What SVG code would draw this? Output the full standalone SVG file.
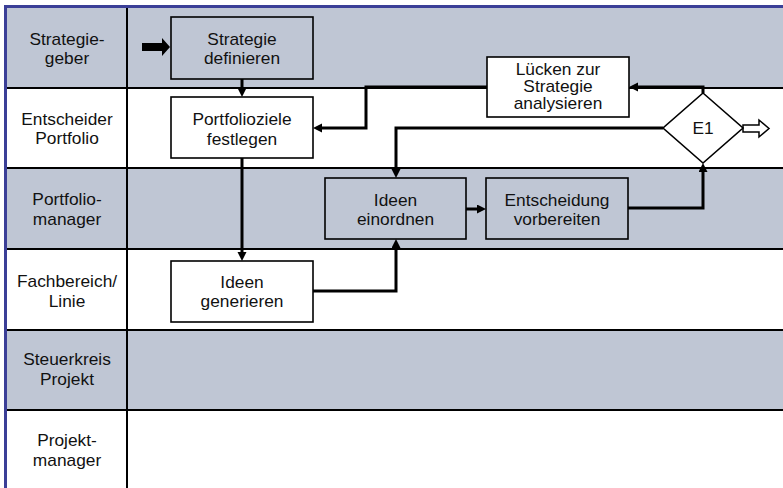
<svg xmlns="http://www.w3.org/2000/svg" width="783" height="488" viewBox="0 0 783 488">
  <style>
    .lane-tint { fill: #bfc6d4; }
    .lane-plain { fill: #ffffff; }
    .divider { stroke: #000; stroke-width: 2; fill: none; }
    .frame { stroke: #3b3f97; stroke-width: 3; fill: none; }
    .box { stroke: #000; stroke-width: 1.6; }
    .box-tint { fill: #bfc6d4; }
    .box-plain { fill: #ffffff; }
    .flow { stroke: #000; stroke-width: 3; fill: none; stroke-linejoin: miter; marker-end: url(#head); }
    text { font-family: "Liberation Sans", Arial, sans-serif; font-size: 16.2px; fill: #111; text-anchor: middle; }
  </style>
  <defs>
    <marker id="head" markerUnits="userSpaceOnUse" markerWidth="10" markerHeight="10" refX="4" refY="4.5" orient="auto">
      <path d="M0,0 L9,4.5 L0,9 z" fill="#000"/>
    </marker>
  </defs>

  <!-- swimlanes -->
  <g id="lanes">
    <rect class="lane-tint" x="5" y="7" width="778" height="81"/>
    <rect class="lane-plain" x="5" y="88" width="778" height="80"/>
    <rect class="lane-tint" x="5" y="168" width="778" height="81"/>
    <rect class="lane-plain" x="5" y="249" width="778" height="81"/>
    <rect class="lane-tint" x="5" y="330" width="778" height="80"/>
    <rect class="lane-plain" x="5" y="410" width="778" height="80"/>
    <path class="divider" d="M5 88 H783 M5 168 H783 M5 249 H783 M5 330 H783 M5 410 H783 M127 7 V488"/>
    <path class="frame" d="M5.5 488 V6.5 H783"/>
  </g>

  <!-- lane labels -->
  <g id="lane-labels">
    <text transform="matrix(1.07 0 0 1 67 44.5)"><tspan x="0" y="0">Strategie-</tspan><tspan x="0" y="20">geber</tspan></text>
    <text transform="matrix(1.07 0 0 1 67 124.5)"><tspan x="0" y="0">Entscheider</tspan><tspan x="0" y="20">Portfolio</tspan></text>
    <text transform="matrix(1.07 0 0 1 67 205)"><tspan x="0" y="0">Portfolio-</tspan><tspan x="0" y="20">manager</tspan></text>
    <text transform="matrix(1.07 0 0 1 67 287)"><tspan x="0" y="0">Fachbereich/</tspan><tspan x="0" y="20">Linie</tspan></text>
    <text transform="matrix(1.07 0 0 1 67 364.5)"><tspan x="0" y="0">Steuerkreis</tspan><tspan x="0" y="20.5">Projekt</tspan></text>
    <text transform="matrix(1.07 0 0 1 67 446)"><tspan x="0" y="0">Projekt-</tspan><tspan x="0" y="20">manager</tspan></text>
  </g>

  <!-- connectors -->
  <g id="connectors">
    <polygon points="142,43 162,43 162,38 170,47 162,56 162,51 142,51" fill="#000"/>
    <path class="flow" d="M242 79 V92"/>
    <path class="flow" d="M242 158 V256"/>
    <path class="flow" d="M313 291 H396 V244"/>
    <path class="flow" d="M466 209 H481"/>
    <path class="flow" d="M628 208 H703 V168"/>
    <path class="flow" d="M703 93 V87 H634"/>
    <path class="flow" d="M487 87 H366 V128 H318"/>
    <path class="flow" d="M663 128 H396 V173"/>
    <polygon points="743,125 759,125 759,120 769,128.5 759,137 759,132 743,132" fill="#fff" stroke="#000" stroke-width="1.5"/>
  </g>

  <!-- process steps -->
  <g id="strategie-definieren">
    <rect class="box box-tint" x="171" y="17" width="142" height="62"/>
    <text transform="matrix(1.07 0 0 1 242 44.5)"><tspan x="0" y="0">Strategie</tspan><tspan x="0" y="20">definieren</tspan></text>
  </g>
  <g id="portfolioziele-festlegen">
    <rect class="box box-plain" x="171" y="97" width="142" height="61"/>
    <text transform="matrix(1.07 0 0 1 242 125)"><tspan x="0" y="0">Portfolioziele</tspan><tspan x="0" y="20">festlegen</tspan></text>
  </g>
  <g id="luecken-analysieren">
    <rect class="box box-plain" x="487" y="57" width="142" height="60"/>
    <text transform="matrix(1.07 0 0 1 558 74.5)"><tspan x="0" y="0">Lücken zur</tspan><tspan x="0" y="17.5">Strategie</tspan><tspan x="0" y="35">analysieren</tspan></text>
  </g>
  <g id="e1">
    <polygon points="703,93 743,128 703,163 663,128" fill="#fff" stroke="#000" stroke-width="1.6"/>
    <text transform="matrix(1.07 0 0 1 703 134)">E1</text>
  </g>
  <g id="ideen-einordnen">
    <rect class="box box-tint" x="325" y="178" width="141" height="61"/>
    <text transform="matrix(1.07 0 0 1 395.5 205.5)"><tspan x="0" y="0">Ideen</tspan><tspan x="0" y="20">einordnen</tspan></text>
  </g>
  <g id="entscheidung-vorbereiten">
    <rect class="box box-tint" x="486" y="178" width="142" height="61"/>
    <text transform="matrix(1.07 0 0 1 557 205.5)"><tspan x="0" y="0">Entscheidung</tspan><tspan x="0" y="20">vorbereiten</tspan></text>
  </g>
  <g id="ideen-generieren">
    <rect class="box box-plain" x="171" y="261" width="142" height="61"/>
    <text transform="matrix(1.07 0 0 1 242 287.5)"><tspan x="0" y="0">Ideen</tspan><tspan x="0" y="20">generieren</tspan></text>
  </g>
</svg>
